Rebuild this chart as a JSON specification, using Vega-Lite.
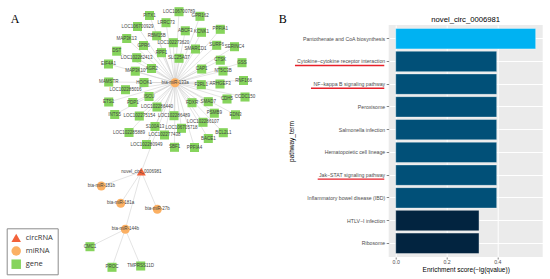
{
  "$schema": "https://vega.github.io/schema/vega-lite/v6.json",
  "padding": 0,
  "background": "white",
  "bounds": "flush",
  "spacing": 118.7,
  "config": {"font": "Liberation Sans"},
  "datasets": {
    "canvas": [{"x0": 0, "x1": 270, "y0": 0, "y1": 279}],
    "panels": [{"label": "A", "x": 15, "y": 19.3}, {"label": "B", "x": 282.7, "y": 18.8}],
    "nodes": [
      {"id": "bta-miR-133a", "type": "miRNA", "x": 175, "y": 82.7},
      {"id": "bta-miR-181b", "type": "miRNA", "x": 101.3, "y": 186},
      {"id": "bta-miR-181a", "type": "miRNA", "x": 120.7, "y": 203.3},
      {"id": "bta-miR-27b", "type": "miRNA", "x": 157.3, "y": 209.3},
      {"id": "bta-miR-144b", "type": "miRNA", "x": 125.3, "y": 229.3},
      {"id": "novel_circ_0006981", "type": "circRNA", "x": 141.3, "y": 171.7},
      {"id": "LOC106700789", "type": "gene", "x": 179, "y": 11.7},
      {"id": "GPR162", "type": "gene", "x": 200, "y": 16.3},
      {"id": "PITX1", "type": "gene", "x": 149.5, "y": 15.5},
      {"id": "LRRC73", "type": "gene", "x": 166, "y": 22.7},
      {"id": "ABCF3", "type": "gene", "x": 185.3, "y": 30.8},
      {"id": "KCNK1", "type": "gene", "x": 201.5, "y": 32.3},
      {"id": "PPFIA1", "type": "gene", "x": 220.3, "y": 29.3},
      {"id": "LOC106700929", "type": "gene", "x": 137.5, "y": 26.5},
      {"id": "MAP3K13", "type": "gene", "x": 126.7, "y": 38.5},
      {"id": "RBM15B", "type": "gene", "x": 156.7, "y": 35.8},
      {"id": "LOC102273620", "type": "gene", "x": 173.3, "y": 42.7},
      {"id": "SMARCD1", "type": "gene", "x": 195.5, "y": 49},
      {"id": "SURF6", "type": "gene", "x": 216.7, "y": 45.3},
      {"id": "SERINC4", "type": "gene", "x": 234.5, "y": 46.7},
      {"id": "GPR6", "type": "gene", "x": 143.5, "y": 45.5},
      {"id": "DST", "type": "gene", "x": 116.7, "y": 51.2},
      {"id": "RPF1", "type": "gene", "x": 161.5, "y": 52.7},
      {"id": "LOC102282413", "type": "gene", "x": 136.7, "y": 57.7},
      {"id": "SLC25A37", "type": "gene", "x": 179, "y": 58.3},
      {"id": "CTSK", "type": "gene", "x": 220.3, "y": 60.2},
      {"id": "GSS", "type": "gene", "x": 242, "y": 62.7},
      {"id": "EIF4A1", "type": "gene", "x": 108.5, "y": 64},
      {"id": "AGR2", "type": "gene", "x": 151.5, "y": 68.5},
      {"id": "MAP3K10", "type": "gene", "x": 135.3, "y": 71.2},
      {"id": "CAP1", "type": "gene", "x": 201.7, "y": 69},
      {"id": "NT5C3B", "type": "gene", "x": 223, "y": 71},
      {"id": "RNF166", "type": "gene", "x": 243.5, "y": 80.5},
      {"id": "MAMSTR", "type": "gene", "x": 108.7, "y": 82},
      {"id": "HOOK1", "type": "gene", "x": 144, "y": 82.5},
      {"id": "ARHGEF3", "type": "gene", "x": 220, "y": 84},
      {"id": "F2RL1", "type": "gene", "x": 201.3, "y": 84.7},
      {"id": "LOC102285016", "type": "gene", "x": 125.5, "y": 89.7},
      {"id": "CCDC150", "type": "gene", "x": 245, "y": 97},
      {"id": "CDH5", "type": "gene", "x": 227, "y": 99},
      {"id": "ETS1", "type": "gene", "x": 108.7, "y": 102},
      {"id": "PDP1", "type": "gene", "x": 132.8, "y": 102.5},
      {"id": "ISCU", "type": "gene", "x": 149, "y": 96.5},
      {"id": "FDXR", "type": "gene", "x": 192, "y": 102.7},
      {"id": "SMAD7", "type": "gene", "x": 208.3, "y": 101.7},
      {"id": "LOC102286440", "type": "gene", "x": 157, "y": 107},
      {"id": "INTS5", "type": "gene", "x": 114.7, "y": 114.5},
      {"id": "LOC102275154", "type": "gene", "x": 139.3, "y": 116},
      {"id": "LOC102286489", "type": "gene", "x": 174, "y": 115.7},
      {"id": "PSMB9", "type": "gene", "x": 214.3, "y": 113.2},
      {"id": "EDN3", "type": "gene", "x": 235.5, "y": 114.8},
      {"id": "LOC102286107", "type": "gene", "x": 203, "y": 122.3},
      {"id": "S100A13", "type": "gene", "x": 155, "y": 126.5},
      {"id": "LOC102285889", "type": "gene", "x": 129, "y": 132.5},
      {"id": "LOC102277438", "type": "gene", "x": 164.5, "y": 135},
      {"id": "LOC106705718", "type": "gene", "x": 181.5, "y": 128.3},
      {"id": "BCL2L1", "type": "gene", "x": 223.3, "y": 132.7},
      {"id": "BACE1", "type": "gene", "x": 208.3, "y": 138.5},
      {"id": "LOC102280949", "type": "gene", "x": 146.5, "y": 144.5},
      {"id": "SBF1", "type": "gene", "x": 174.5, "y": 147.3},
      {"id": "PPFIA4", "type": "gene", "x": 194.5, "y": 147.5},
      {"id": "CMC1", "type": "gene", "x": 90, "y": 246.7},
      {"id": "PROC", "type": "gene", "x": 112, "y": 267.3},
      {"id": "TMPRSS11D", "type": "gene", "x": 140.7, "y": 266}
    ],
    "edges": [
      {"source": "bta-miR-133a", "target": "LOC106700789"},
      {"source": "bta-miR-133a", "target": "GPR162"},
      {"source": "bta-miR-133a", "target": "PITX1"},
      {"source": "bta-miR-133a", "target": "LRRC73"},
      {"source": "bta-miR-133a", "target": "ABCF3"},
      {"source": "bta-miR-133a", "target": "KCNK1"},
      {"source": "bta-miR-133a", "target": "PPFIA1"},
      {"source": "bta-miR-133a", "target": "LOC106700929"},
      {"source": "bta-miR-133a", "target": "MAP3K13"},
      {"source": "bta-miR-133a", "target": "RBM15B"},
      {"source": "bta-miR-133a", "target": "LOC102273620"},
      {"source": "bta-miR-133a", "target": "SMARCD1"},
      {"source": "bta-miR-133a", "target": "SURF6"},
      {"source": "bta-miR-133a", "target": "SERINC4"},
      {"source": "bta-miR-133a", "target": "GPR6"},
      {"source": "bta-miR-133a", "target": "DST"},
      {"source": "bta-miR-133a", "target": "RPF1"},
      {"source": "bta-miR-133a", "target": "LOC102282413"},
      {"source": "bta-miR-133a", "target": "SLC25A37"},
      {"source": "bta-miR-133a", "target": "CTSK"},
      {"source": "bta-miR-133a", "target": "GSS"},
      {"source": "bta-miR-133a", "target": "EIF4A1"},
      {"source": "bta-miR-133a", "target": "AGR2"},
      {"source": "bta-miR-133a", "target": "MAP3K10"},
      {"source": "bta-miR-133a", "target": "CAP1"},
      {"source": "bta-miR-133a", "target": "NT5C3B"},
      {"source": "bta-miR-133a", "target": "RNF166"},
      {"source": "bta-miR-133a", "target": "MAMSTR"},
      {"source": "bta-miR-133a", "target": "HOOK1"},
      {"source": "bta-miR-133a", "target": "ARHGEF3"},
      {"source": "bta-miR-133a", "target": "F2RL1"},
      {"source": "bta-miR-133a", "target": "LOC102285016"},
      {"source": "bta-miR-133a", "target": "CCDC150"},
      {"source": "bta-miR-133a", "target": "CDH5"},
      {"source": "bta-miR-133a", "target": "ETS1"},
      {"source": "bta-miR-133a", "target": "PDP1"},
      {"source": "bta-miR-133a", "target": "ISCU"},
      {"source": "bta-miR-133a", "target": "FDXR"},
      {"source": "bta-miR-133a", "target": "SMAD7"},
      {"source": "bta-miR-133a", "target": "LOC102286440"},
      {"source": "bta-miR-133a", "target": "INTS5"},
      {"source": "bta-miR-133a", "target": "LOC102275154"},
      {"source": "bta-miR-133a", "target": "LOC102286489"},
      {"source": "bta-miR-133a", "target": "PSMB9"},
      {"source": "bta-miR-133a", "target": "EDN3"},
      {"source": "bta-miR-133a", "target": "LOC102286107"},
      {"source": "bta-miR-133a", "target": "S100A13"},
      {"source": "bta-miR-133a", "target": "LOC102285889"},
      {"source": "bta-miR-133a", "target": "LOC102277438"},
      {"source": "bta-miR-133a", "target": "LOC106705718"},
      {"source": "bta-miR-133a", "target": "BCL2L1"},
      {"source": "bta-miR-133a", "target": "BACE1"},
      {"source": "bta-miR-133a", "target": "LOC102280949"},
      {"source": "bta-miR-133a", "target": "SBF1"},
      {"source": "bta-miR-133a", "target": "PPFIA4"},
      {"source": "novel_circ_0006981", "target": "bta-miR-133a"},
      {"source": "novel_circ_0006981", "target": "bta-miR-181b"},
      {"source": "novel_circ_0006981", "target": "bta-miR-181a"},
      {"source": "novel_circ_0006981", "target": "bta-miR-27b"},
      {"source": "novel_circ_0006981", "target": "bta-miR-144b"},
      {"source": "bta-miR-144b", "target": "CMC1"},
      {"source": "bta-miR-144b", "target": "PROC"},
      {"source": "bta-miR-144b", "target": "TMPRSS11D"}
    ],
    "pathways": [
      {"term": "Pantothenate and CoA biosynthesis", "score": 0.551},
      {"term": "Cytokine−cytokine receptor interaction", "score": 0.3976},
      {"term": "NF−kappa B signaling pathway", "score": 0.3976},
      {"term": "Peroxisome", "score": 0.3976},
      {"term": "Salmonella infection", "score": 0.3976},
      {"term": "Hematopoietic cell lineage", "score": 0.3976},
      {"term": "Jak−STAT signaling pathway", "score": 0.3976},
      {"term": "Inflammatory bowel disease (IBD)", "score": 0.3976},
      {"term": "HTLV−I infection", "score": 0.328},
      {"term": "Ribosome", "score": 0.328}
    ],
    "underlines": [
      {"term": "Cytokine−cytokine receptor interaction", "from": -0.3965, "to": -0.045},
      {"term": "NF−kappa B signaling pathway", "from": -0.3335, "to": -0.045},
      {"term": "Jak−STAT signaling pathway", "from": -0.3071, "to": -0.045}
    ]
  },
  "hconcat": [
    {
      "width": 270,
      "height": 232,
      "view": {"stroke": null},
      "layer": [
        {
          "data": {"name": "canvas"},
          "mark": {"type": "rect", "fill": "white"},
          "encoding": {
            "x": {"field": "x0", "type": "quantitative", "scale": {"domain": [0, 270], "nice": false, "zero": false}, "axis": null},
            "x2": {"field": "x1"},
            "y": {"field": "y0", "type": "quantitative", "scale": {"domain": [25, 257], "reverse": true, "nice": false, "zero": false}, "axis": null},
            "y2": {"field": "y1"}
          }
        },
        {
          "data": {"name": "edges"},
          "transform": [
            {"lookup": "source", "from": {"data": {"name": "nodes"}, "key": "id", "fields": ["x", "y"]}, "as": ["sx", "sy"]},
            {"lookup": "target", "from": {"data": {"name": "nodes"}, "key": "id", "fields": ["x", "y"]}, "as": ["tx", "ty"]}
          ],
          "mark": {"type": "rule", "color": "#cdcdcd", "strokeWidth": 0.55},
          "encoding": {
            "x": {"field": "sx", "type": "quantitative", "scale": {"domain": [0, 270], "nice": false, "zero": false}, "axis": null},
            "x2": {"field": "tx"},
            "y": {"field": "sy", "type": "quantitative", "scale": {"domain": [25, 257], "reverse": true, "nice": false, "zero": false}, "axis": null},
            "y2": {"field": "ty"}
          }
        },
        {
          "data": {"name": "nodes"},
          "mark": {"type": "point", "filled": true, "opacity": 1, "size": 82, "strokeWidth": 0},
          "encoding": {
            "x": {"field": "x", "type": "quantitative", "scale": {"domain": [0, 270], "nice": false, "zero": false}, "axis": null},
            "y": {"field": "y", "type": "quantitative", "scale": {"domain": [25, 257], "reverse": true, "nice": false, "zero": false}, "axis": null},
            "color": {
              "field": "type", "type": "nominal",
              "scale": {"domain": ["circRNA", "miRNA", "gene"], "range": ["#f2623a", "#fbb063", "#86d45c"]},
              "legend": {"title": null, "orient": "none", "legendX": 6.7, "legendY": 203.3, "padding": 4.5, "strokeColor": "#8c8c8c", "fillColor": "white", "labelFont": "Open Sans", "labelFontSize": 7.5, "labelColor": "#333", "symbolSize": 90, "rowPadding": 3.2, "labelOffset": 4.5, "symbolStrokeWidth": 0, "symbolOpacity": 1,
                "symbolType": {"expr": "datum.value == 'circRNA' ? 'triangle-up' : (datum.value == 'miRNA' ? 'circle' : 'square')"}}
            },
            "shape": {
              "field": "type", "type": "nominal",
              "scale": {"domain": ["circRNA", "miRNA", "gene"], "range": ["triangle-up", "circle", "square"]},
              "legend": null
            }
          }
        },
        {
          "data": {"name": "nodes"},
          "mark": {"type": "text", "fontSize": 4.5, "color": "#444", "baseline": "middle", "align": "center"},
          "encoding": {
            "x": {"field": "x", "type": "quantitative", "scale": {"domain": [0, 270], "nice": false, "zero": false}, "axis": null},
            "y": {"field": "y", "type": "quantitative", "scale": {"domain": [25, 257], "reverse": true, "nice": false, "zero": false}, "axis": null},
            "text": {"field": "id"}
          }
        },
        {
          "data": {"name": "panels"},
          "mark": {"type": "text", "font": "Liberation Serif", "fontSize": 12, "color": "black", "baseline": "middle", "align": "center"},
          "encoding": {
            "x": {"field": "x", "type": "quantitative", "scale": {"domain": [0, 270], "nice": false, "zero": false}, "axis": null},
            "y": {"field": "y", "type": "quantitative", "scale": {"domain": [25, 257], "reverse": true, "nice": false, "zero": false}, "axis": null},
            "text": {"field": "label"}
          }
        }
      ]
    },
    {
      "width": 154,
      "height": 232,
      "view": {"fill": "#EBEBEB", "stroke": null},
      "title": {"text": "novel_circ_0006981", "fontSize": 7.7, "fontWeight": "normal", "frame": "group", "anchor": "middle", "offset": 1.5, "color": "black", "font": "Liberation Sans"},
      "layer": [
        {
          "data": {"name": "pathways"},
          "mark": {"type": "bar", "stroke": "white", "strokeWidth": 0.4},
          "encoding": {
            "y": {
              "field": "term", "type": "nominal",
              "scale": {"domain": ["Pantothenate and CoA biosynthesis", "Cytokine−cytokine receptor interaction", "NF−kappa B signaling pathway", "Peroxisome", "Salmonella infection", "Hematopoietic cell lineage", "Jak−STAT signaling pathway", "Inflammatory bowel disease (IBD)", "HTLV−I infection", "Ribosome"], "paddingInner": 0.1, "paddingOuter": 0.15},
              "axis": {"bandPosition": 0.5, "grid": true, "gridColor": "white", "gridWidth": 1, "domain": false, "tickColor": "#333", "tickSize": 2.5, "tickWidth": 0.6, "labelFontSize": 5.2, "labelColor": "#4d4d4d", "labelPadding": 1.5, "labelLimit": 200, "title": "pathway_term", "titleFontSize": 6.5, "titleFontWeight": "normal", "titleColor": "black", "titlePadding": 2}
            },
            "x": {
              "field": "score", "type": "quantitative",
              "scale": {"domain": [-0.0276, 0.5786], "nice": false, "zero": false},
              "axis": {
                "values": [0, 0.1, 0.2, 0.3, 0.4, 0.5],
                "labelExpr": "round(datum.value*10) % 2 == 0 ? format(datum.value, '.1f') : ''",
                "grid": true, "gridColor": "white",
                "gridWidth": {"condition": {"test": "round(datum.value*10) % 2 == 0", "value": 1}, "value": 0.5},
                "tickOpacity": {"condition": {"test": "round(datum.value*10) % 2 == 0", "value": 1}, "value": 0},
                "tickColor": "#333", "tickSize": 2, "tickWidth": 0.6, "domain": false,
                "labelFontSize": 5.2, "labelColor": "#4d4d4d", "labelPadding": 0.5,
                "title": "Enrichment score(−lg(qvalue))", "titleFontSize": 6.5, "titleFontWeight": "normal", "titleColor": "black", "titlePadding": 1.5
              }
            },
            "color": {"field": "score", "type": "quantitative", "scale": {"domain": [0.328, 0.551], "range": ["#022440", "#00b2f2"], "interpolate": "rgb"}, "legend": null}
          }
        },
        {
          "data": {"name": "underlines"},
          "mark": {"type": "rule", "color": "#e8202a", "strokeWidth": 1.3, "yOffset": 4.1},
          "encoding": {
            "y": {"field": "term", "type": "nominal"},
            "x": {"field": "from", "type": "quantitative"},
            "x2": {"field": "to"}
          }
        }
      ]
    }
  ]
}
